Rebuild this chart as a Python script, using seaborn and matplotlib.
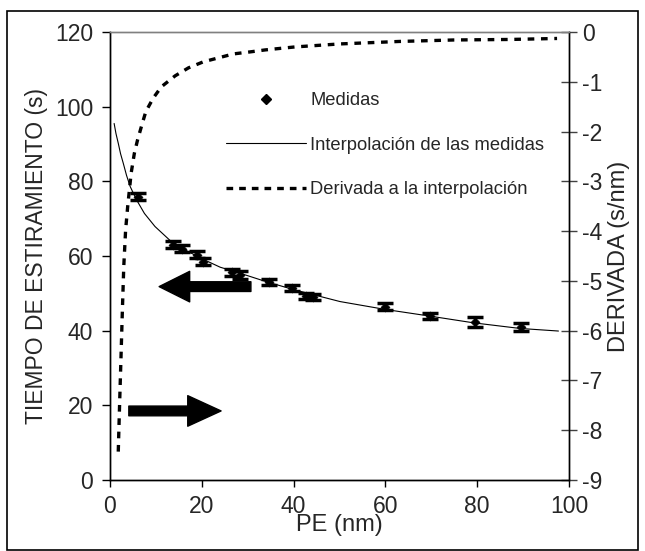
import matplotlib
matplotlib.use("Agg")
import matplotlib.pyplot as plt
import seaborn as sns
import pandas as pd
from matplotlib.lines import Line2D
from matplotlib.patches import Rectangle

# ---- data ----
pe_meas = [6.2, 13.8, 15.6, 19.0, 20.3, 26.5, 28.3, 34.7, 39.6, 42.7, 44.3, 59.9, 69.7, 79.5, 89.6]
t_meas = [75.9, 63.0, 62.0, 60.4, 58.5, 55.6, 54.9, 53.0, 51.4, 49.2, 48.9, 46.4, 43.9, 42.3, 41.0]
t_err = [1.0, 0.9, 1.0, 1.0, 1.0, 0.9, 1.0, 0.8, 0.9, 0.8, 0.8, 0.9, 0.9, 1.3, 1.0]

pe_interp = [0.9, 1.3, 1.8, 2.3, 2.9, 3.6, 4.4, 5.8, 7.5, 9.8, 13.4, 17.0, 20.5, 24.0,
             28.3, 34.1, 40.0, 50.1, 59.9, 69.7, 79.2, 89.3, 97.7]
t_interp = [95.5, 92.8, 90.2, 87.4, 84.8, 81.6, 78.6, 75.0, 71.4, 67.9, 63.8, 61.2, 59.0, 57.0,
            55.4, 53.1, 51.0, 47.8, 45.7, 43.9, 42.1, 40.6, 39.9]

pe_deriv = [1.8, 2.1, 2.4, 2.7, 3.0, 3.4, 3.85, 4.6, 5.3, 6.0, 6.9, 7.8, 9.4, 11.2, 14.2,
            17.1, 20.3, 23.6, 26.9, 30.5, 33.8, 37.0, 40.3, 50.0, 63.0, 75.0, 87.0, 97.4]
d_deriv = [-8.43, -7.45, -6.52, -5.58, -4.71, -3.98, -3.51, -2.84, -2.44, -2.17, -1.88, -1.60,
           -1.33, -1.10, -0.88, -0.72, -0.60, -0.52, -0.44, -0.40, -0.36, -0.33, -0.30,
           -0.24, -0.19, -0.16, -0.15, -0.13]

x_ticks = [0, 20, 40, 60, 80, 100]
y_ticks = [0, 20, 40, 60, 80, 100, 120]
y2_ticks = [0, -1, -2, -3, -4, -5, -6, -7, -8, -9]

labels = ["Medidas", "Interpolación de las medidas", "Derivada a la interpolación"]

# ---- style ----
sns.set_style("white")
plt.rcParams["font.family"] = ["Liberation Sans", "DejaVu Sans"]
plt.rcParams["axes.unicode_minus"] = False

fig = plt.figure(figsize=(6.45, 5.51), dpi=100)
ax = fig.add_axes([110 / 645, 71 / 551, 459 / 645, 448 / 551])
ax2 = ax.twinx()

df_meas = pd.DataFrame({"pe": pe_meas, "t": t_meas})
df_int = pd.DataFrame({"pe": pe_interp, "t": t_interp})
df_der = pd.DataFrame({"pe": pe_deriv, "d": d_deriv})

sns.lineplot(data=df_int, x="pe", y="t", ax=ax, color="black", linewidth=0.8, sort=False)
ax.errorbar(pe_meas, t_meas, yerr=t_err, fmt="none", ecolor="black", elinewidth=2,
            capsize=6, capthick=2.5, zorder=3)
sns.scatterplot(data=df_meas, x="pe", y="t", ax=ax, marker="D", s=22, color="black",
                edgecolor="black", zorder=4)

sns.lineplot(data=df_der, x="pe", y="d", ax=ax2, color="black", linewidth=2.4, sort=False)
ax2.lines[0].set_dashes((2.0, 2.0))
ax2.lines[0].set_dash_capstyle("butt")

# arrows
ax.annotate("", xy=(10.7, 51.8), xytext=(30.7, 51.8),
            arrowprops=dict(facecolor="black", edgecolor="black", width=7,
                            headwidth=22, headlength=22, shrink=0))
ax.annotate("", xy=(24.2, 18.5), xytext=(4.1, 18.5),
            arrowprops=dict(facecolor="black", edgecolor="black", width=7,
                            headwidth=22, headlength=24, shrink=0))

# axes limits / ticks
ax.set_xlim(0, 100)
ax.set_ylim(0, 120)
ax2.set_ylim(-9, 0)
ax.set_xticks(x_ticks)
ax.set_yticks(y_ticks)
ax2.set_yticks(y2_ticks)
ax2.set_yticklabels([str(v) for v in y2_ticks])

ax.tick_params(axis="x", direction="out", length=5, width=1, color="black",
               labelsize=16.5, pad=6, bottom=True)
ax.tick_params(axis="y", direction="out", length=6, width=1, color="black",
               labelsize=16.5, pad=6, left=True)
ax2.tick_params(axis="y", direction="inout", length=11, width=1, color="#404040",
                labelsize=16.5, pad=4, right=True)

ax.set_xlabel("PE (nm)", fontsize=17, labelpad=-3)
ax.set_ylabel("TIEMPO DE ESTIRAMIENTO (s)", fontsize=16.5, labelpad=5)
ax2.set_ylabel("DERIVADA (s/nm)", fontsize=17, labelpad=4)

for a in (ax, ax2):
    for s in ("left", "right", "bottom"):
        a.spines[s].set_color("black")
        a.spines[s].set_linewidth(1.0)
    a.spines["top"].set_color("#808080")
    a.spines["top"].set_linewidth(1.0)

# legend
handles = [
    Line2D([], [], linestyle="none", marker="D", markersize=5, color="black"),
    Line2D([], [], color="black", linewidth=0.8),
    Line2D([], [], color="black", linewidth=2.4, dashes=(2.0, 1.8)),
]
leg = ax.legend(handles, labels, loc="upper left", bbox_to_anchor=(0.252, 0.866),
                frameon=False, fontsize=13.2, handlelength=4.4, handletextpad=0.2,
                labelspacing=1.5, borderpad=0, borderaxespad=0)

# figure border
fig.patches.append(Rectangle((7 / 645, 1 / 551), 631 / 645, 539 / 551,
                             transform=fig.transFigure, fill=False,
                             edgecolor="black", linewidth=1.2))

fig.savefig("out.png", dpi=100)
